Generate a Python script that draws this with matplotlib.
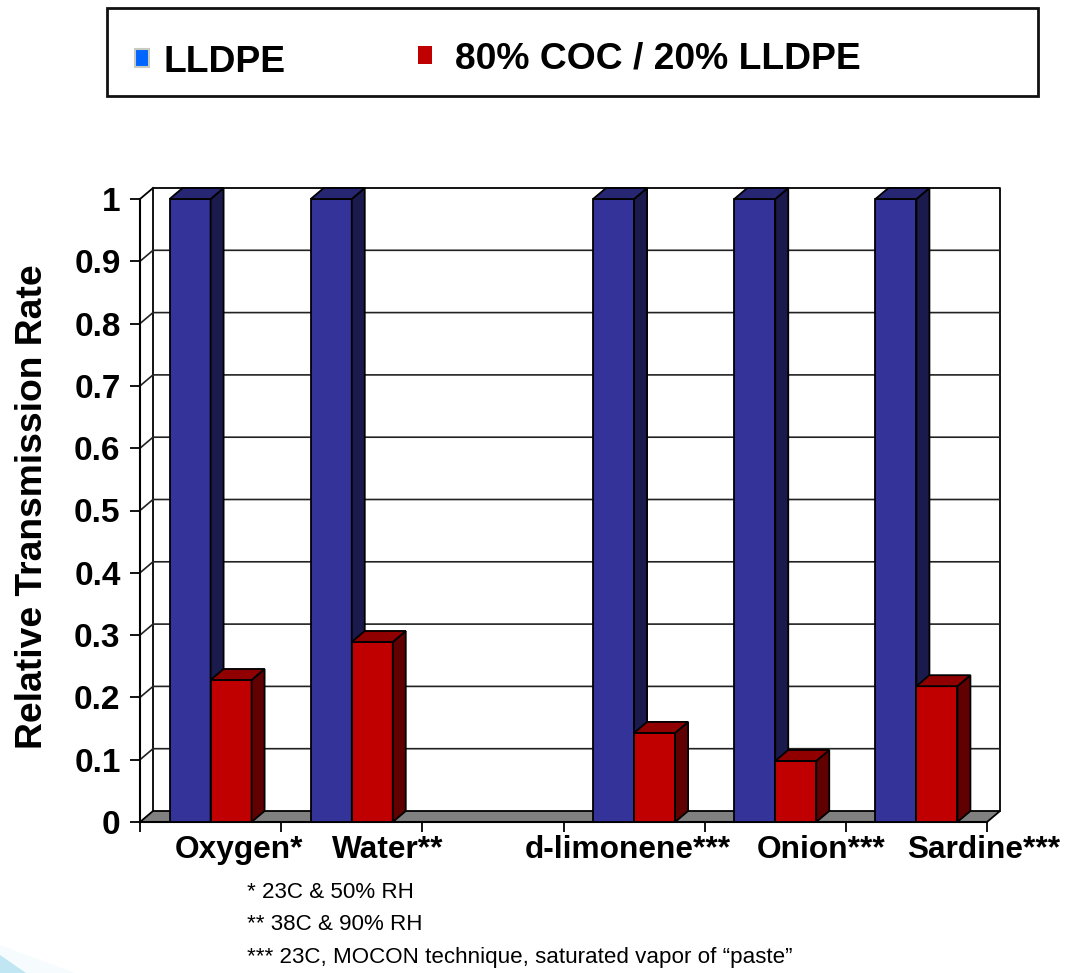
import numpy as np
import matplotlib
matplotlib.use('Agg')
import matplotlib.pyplot as plt
from matplotlib.patches import Polygon, Rectangle

plt.rcParams['font.family'] = ['Liberation Sans', 'DejaVu Sans']

# data
categories = ['Oxygen*', 'Water**', '', 'd-limonene***', 'Onion***', 'Sardine***']
lldpe = [1, 1, None, 1, 1, 1]
coc = [0.228, 0.289, None, 0.143, 0.098, 0.218]
y_ticks = [0, 0.1, 0.2, 0.3, 0.4, 0.5, 0.6, 0.7, 0.8, 0.9, 1]
y_ticklabels = ['0', '0.1', '0.2', '0.3', '0.4', '0.5', '0.6', '0.7', '0.8', '0.9', '1']
notes = ['* 23C & 50% RH', '** 38C & 90% RH',
	'*** 23C, MOCON technique, saturated vapor of \u201cpaste\u201d']

W, H = 1066, 973
fig = plt.figure(figsize=(W/100, H/100), dpi=100)

# faint bit of the slide background in the corner
fig.add_artist(Polygon([(0, 1-945/H), (75/W, 0), (0, 0)], transform=fig.transFigure, fc='#F6FCFD', ec='none'))
fig.add_artist(Polygon([(0, 1-955/H), (26/W, 0), (0, 0)], transform=fig.transFigure, fc='#BFE6F2', ec='none'))

ax = fig.add_axes([140/W, 1-822/H, 847/W, 623/H])
ax.set_xlim(0, 6)
ax.set_ylim(0, 1)
for s in ax.spines.values():
	s.set_visible(False)
ax.patch.set_alpha(0)

# depth of the fake 3d box in data units
dx = 13/(847/6)
dy = 11/623.
bar_w = 41/(847/6)


def box(x, h, front, side, top, z=3):
	ax.add_patch(Rectangle((x, 0), bar_w, h, fc=front, ec='black', lw=1.3, zorder=z, clip_on=False))
	ax.add_patch(Polygon([(x+bar_w, 0), (x+bar_w+dx, dy), (x+bar_w+dx, h+dy), (x+bar_w, h)],
		fc=side, ec='black', lw=1.3, zorder=z, clip_on=False))
	ax.add_patch(Polygon([(x, h), (x+dx, h+dy), (x+bar_w+dx, h+dy), (x+bar_w, h)],
		fc=top, ec='black', lw=1.3, zorder=z, clip_on=False))


# walls and floor
ax.add_patch(Polygon([(0, 0), (dx, dy), (6+dx, dy), (6, 0)], fc='#808080', ec='black', lw=1.3, zorder=1, clip_on=False))
ax.plot([dx, dx, 6+dx, 6+dx], [dy, 1+dy, 1+dy, dy], color='black', lw=1.3, zorder=1, clip_on=False)
ax.plot([0, dx], [1, 1+dy], color='black', lw=1.3, zorder=1, clip_on=False)
for t in y_ticks[1:-1]:
	ax.plot([0, dx, 6+dx], [t, t+dy, t+dy], color='#222222', lw=1.2, zorder=1, clip_on=False)

for i in range(len(categories)):
	if lldpe[i] is None:
		continue
	# blue bar sits left of slot centre, red right
	box(i+0.5-bar_w, lldpe[i], '#333399', '#1A1A4D', '#262673', z=3+i)
	box(i+0.5, coc[i], '#C00000', '#600000', '#900000', z=3+i)

ax.set_yticks(y_ticks)
ax.set_yticklabels(y_ticklabels, fontsize=24, fontweight='bold')
ax.set_xticks(range(7))
ax.set_xticklabels([])
ax.tick_params(axis='y', length=7, width=1.3, pad=7)
ax.tick_params(axis='x', length=7, width=1.3)
ax.plot([0, 0], [0, 1], color='black', lw=1.5, zorder=2, clip_on=False)
ax.plot([0, 6], [0, 0], color='black', lw=1.5, zorder=2, clip_on=False)

# labels were hand placed on the slide, not centred on the slots
label_x = [239, 388, 0, 628, 821, 984]
for i, name in enumerate(categories):
	if name:
		fig.text(label_x[i]/W, 1-850/H, name, ha='center', va='center', fontsize=22.8, fontweight='bold')

fig.text(33/W, 1-507/H, 'Relative Transmission Rate', rotation=90, ha='center', va='center',
	fontsize=26.8, fontweight='bold')

for k, note in enumerate(notes):
	fig.text(247/W, 1-(893+32*k)/H, note, ha='left', va='center', fontsize=16.15)

# legend box
fig.add_artist(Rectangle((107/W, 1-96/H), 931/W, 88/H, transform=fig.transFigure, fc='white', ec='#111111', lw=2))
fig.add_artist(Rectangle((135/W, 1-67/H), 14/W, 18/H, transform=fig.transFigure, fc='#0066FF', ec='#C8CCC0', lw=1.5))
fig.add_artist(Rectangle((418/W, 1-64/H), 14/W, 18/H, transform=fig.transFigure, fc='#C00000', ec='none'))
fig.text(164/W, 1-62/H, 'LLDPE', ha='left', va='center', fontsize=26.8, fontweight='bold')
fig.text(455/W, 1-59/H, '80% COC / 20% LLDPE', ha='left', va='center', fontsize=26.8, fontweight='bold')

fig.savefig('out.png', dpi=100)
